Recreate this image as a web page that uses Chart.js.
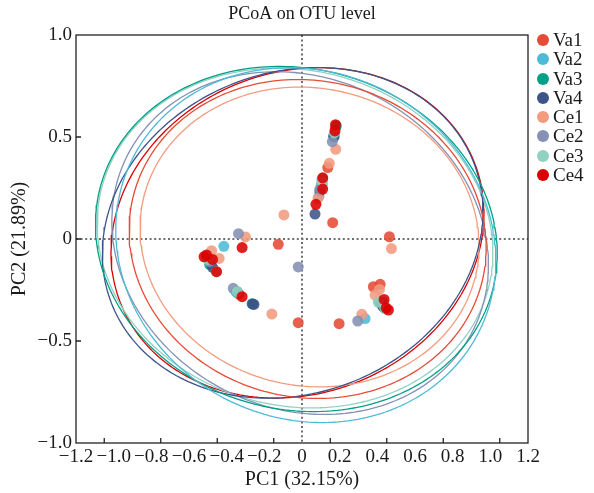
<!DOCTYPE html>
<html><head><meta charset="utf-8">
<script src="https://cdn.jsdelivr.net/npm/chart.js@4/dist/chart.umd.min.js"></script>
<style>
html,body{margin:0;padding:0;background:#fff}
#wrap{position:relative;width:594px;height:493px}
#legend{position:absolute;left:537px;top:30.35px;font-family:'Liberation Serif','DejaVu Serif',serif;font-size:19px;color:#1a1a1a}
#legend .it{display:flex;align-items:center;height:19.3px;white-space:nowrap}
#legend .dot{display:inline-block;width:12px;height:12px;border-radius:50%;margin-right:4px}
</style>
</head><body>
<div id="wrap">
<canvas id="c" width="594" height="493"></canvas>
<div id="legend"></div>
</div>
<script>
const groups = ['Va1','Va2','Va3','Va4','Ce1','Ce2','Ce3','Ce4'];
const colors = ['#E64B35','#4DBBD5','#00A087','#3C5488','#F39B7F','#8491B4','#91D1C2','#DC0000'];

// PC1 / PC2 coordinates per group
const va1PC1 = [0.178, 0.137, 0.105, 0.163, -0.126, -0.020, 0.197, 0.379, 0.415, 0.464, -0.500, -0.335];
const va1PC2 = [0.545, 0.350, 0.270, 0.080, -0.026, -0.410, -0.415, -0.234, -0.222, 0.011, -0.090, -0.270];
const va2PC1 = [0.172, 0.105, -0.415, -0.505, -0.350, 0.335, 0.430, 0.090];
const va2PC2 = [0.510, 0.265, -0.036, -0.085, -0.260, -0.390, -0.330, 0.210];
const va3PC1 = [0.182, 0.168, 0.108, -0.490, -0.344, -0.265, 0.411, 0.440];
const va3PC2 = [0.555, 0.505, 0.295, -0.125, -0.258, -0.317, -0.307, -0.340];
const va4PC1 = [0.069, 0.095, 0.170, -0.475, -0.262, -0.255, 0.424, 0.430];
const va4PC2 = [0.122, 0.235, 0.500, -0.139, -0.319, -0.321, -0.323, -0.330];
const ce1PC1 = [0.179, 0.145, 0.085, -0.096, -0.300, -0.480, -0.440, -0.160, 0.318, 0.411, 0.388, 0.475];
const ce1PC2 = [0.440, 0.371, 0.200, 0.118, 0.010, -0.057, -0.095, -0.368, -0.369, -0.247, -0.275, -0.047];
const ce2PC1 = [0.161, 0.095, -0.020, -0.337, -0.365, 0.296, -0.490, 0.430];
const ce2PC2 = [0.477, 0.245, -0.137, 0.026, -0.242, -0.402, -0.110, -0.310];
const ce3PC1 = [0.172, 0.105, -0.454, -0.344, 0.405, 0.440, 0.110, -0.500];
const ce3PC2 = [0.520, 0.290, -0.160, -0.258, -0.310, -0.340, 0.275, -0.100];
const ce4PC1 = [0.178, 0.175, 0.110, 0.110, 0.074, -0.318, -0.520, -0.507, -0.475, -0.454, -0.318, 0.436, 0.447, 0.459];
const ce4PC2 = [0.560, 0.530, 0.300, 0.245, 0.170, -0.042, -0.087, -0.078, -0.100, -0.160, -0.283, -0.296, -0.338, -0.348];

// confidence ellipse parameters per group (centre, semi-axes, rotation in degrees)
const ellCx    = [0.03, 0.02, -0.03, -0.05, 0.04, -0.01, -0.037, -0.024];
const ellCy    = [0.00, -0.03, 0.00, 0.03, 0.01, -0.02, 0.005, 0.03];
const ellA     = [0.951, 1.019, 1.073, 1.024, 0.903, 1.017, 1.057, 1.003];
const ellB     = [0.778, 0.858, 0.838, 0.793, 0.731, 0.819, 0.825, 0.794];
const ellAngle = [-8, -15, -10, 15, -8, -18, -10, 15];

// axis ticks
const xTickValues = [-1.2,-1.0,-0.8,-0.6,-0.4,-0.2,0,0.2,0.4,0.6,0.8,1.0,1.2];
const xTickLabels = ['\u22121.2','\u22121.0','\u22120.8','\u22120.6','\u22120.4','\u22120.2','0','0.2','0.4','0.6','0.8','1.0','1.2'];
const yTickValues = [-1.0,-0.5,0,0.5,1.0];
const yTickLabels = ['\u22121.0','\u22120.5','0','0.5','1.0'];
const xTickMarks = [-1.05,-0.75,-0.45,-0.15,0.15,0.45,0.75,1.05];
const yTickMarks = [-0.5,0,0.5];

const pc1 = [va1PC1, va2PC1, va3PC1, va4PC1, ce1PC1, ce2PC1, ce3PC1, ce4PC1];
const pc2 = [va1PC2, va2PC2, va3PC2, va4PC2, ce1PC2, ce2PC2, ce3PC2, ce4PC2];

const FONT = "'Liberation Serif', 'DejaVu Serif', serif";
const TXT = '#1a1a1a';

function withAlpha(hex, a){
  const n = parseInt(hex.slice(1),16);
  return `rgba(${(n>>16)&255},${(n>>8)&255},${n&255},${a})`;
}
function ellipsePoints(cx, cy, a, b, deg){
  const t = deg*Math.PI/180, pts = [];
  for (let k=0;k<=240;k++){
    const s = k/240*2*Math.PI;
    pts.push({x: cx + a*Math.cos(s)*Math.cos(t) - b*Math.sin(s)*Math.sin(t),
              y: cy + a*Math.cos(s)*Math.sin(t) + b*Math.sin(s)*Math.cos(t)});
  }
  return pts;
}

// HTML legend
const legendEl = document.getElementById('legend');
groups.forEach((g,i)=>{
  const it = document.createElement('div'); it.className = 'it';
  const d = document.createElement('span'); d.className = 'dot'; d.style.background = colors[i];
  const t = document.createElement('span'); t.textContent = g;
  it.appendChild(d); it.appendChild(t); legendEl.appendChild(it);
});

const datasets = [];
groups.forEach((g,i)=>{
  datasets.push({
    label: g,
    data: pc1[i].map((x,j)=>({x, y: pc2[i][j]})),
    backgroundColor: withAlpha(colors[i], 0.88),
    borderWidth: 0,
    pointRadius: 5.5,
    pointHoverRadius: 5.5,
    pointStyle: 'circle',
    order: 7 - i
  });
});
groups.forEach((g,i)=>{
  datasets.push({
    label: g + ' ellipse',
    data: ellipsePoints(ellCx[i], ellCy[i], ellA[i], ellB[i], ellAngle[i]),
    showLine: true,
    borderColor: colors[i],
    borderWidth: 1.3,
    pointRadius: 0,
    fill: false,
    tension: 0,
    order: 20 + i
  });
});

const framePlugin = {
  id: 'frame',
  afterDraw(chart){
    const {ctx, chartArea: a, scales} = chart;
    ctx.save();
    ctx.strokeStyle = '#222';
    ctx.lineWidth = 1.3;
    ctx.strokeRect(a.left, a.top, a.right - a.left, a.bottom - a.top);
    ctx.beginPath();
    xTickMarks.forEach(v=>{ const p = scales.x.getPixelForValue(v); ctx.moveTo(p, a.bottom); ctx.lineTo(p, a.bottom - 5); });
    yTickMarks.forEach(v=>{ const p = scales.y.getPixelForValue(v); ctx.moveTo(a.left, p); ctx.lineTo(a.left + 5, p); });
    ctx.stroke();
    ctx.restore();
  }
};

const zeroGrid = (ctx) => (ctx.tick && Math.abs(ctx.tick.value) < 1e-9) ? '#6e6e6e' : 'rgba(0,0,0,0)';

new Chart(document.getElementById('c'), {
  type: 'scatter',
  data: { datasets },
  options: {
    responsive: false,
    animation: false,
    layout: { padding: 0 },
    plugins: {
      tooltip: { enabled: false },
      legend: { display: false },
      title: {
        display: true, text: 'PCoA on OTU level', fullSize: false,
        color: TXT, font: { family: FONT, size: 18, weight: 'normal' },
        padding: { top: 3, bottom: 5 }
      }
    },
    scales: {
      x: {
        type: 'linear', position: 'bottom', min: -1.2, max: 1.2,
        afterFit: (s) => { s.height = 50; },
        afterBuildTicks: (s) => { s.ticks = xTickValues.map(v=>({value:v})); },
        ticks: {
          autoSkip: false, maxRotation: 0, padding: 3, color: TXT,
          font: { family: FONT, size: 19 },
          callback: (v) => { const k = xTickValues.findIndex(t=>Math.abs(t-v)<1e-9); return k>=0 ? xTickLabels[k] : ''; }
        },
        grid: { drawTicks: false, color: zeroGrid, lineWidth: 2 },
        border: { display: false, dash: [2, 2.6] },
        title: { display: true, text: 'PC1 (32.15%)', color: TXT, font: { family: FONT, size: 20 }, padding: { top: 0, bottom: 1 } }
      },
      y: {
        type: 'linear', position: 'left', min: -1, max: 1,
        afterFit: (s) => { s.width = 76; },
        afterBuildTicks: (s) => { s.ticks = yTickValues.map(v=>({value:v})); },
        ticks: {
          padding: 4, color: TXT, font: { family: FONT, size: 19 },
          callback: (v) => { const k = yTickValues.findIndex(t=>Math.abs(t-v)<1e-9); return k>=0 ? yTickLabels[k] : ''; }
        },
        grid: { drawTicks: false, color: zeroGrid, lineWidth: 2 },
        border: { display: false, dash: [2, 2.6] },
        title: { display: true, text: 'PC2 (21.89%)', color: TXT, font: { family: FONT, size: 20 }, padding: { top: 8, bottom: 0 } }
      },
      xTop: {
        type: 'linear', position: 'top', min: -1.2, max: 1.2,
        afterFit: (s) => { s.height = 5.4; },
        ticks: { display: false }, grid: { display: false, drawTicks: false }, border: { display: false }
      },
      yRight: {
        type: 'linear', position: 'right', min: -1, max: 1,
        afterFit: (s) => { s.width = 66; },
        ticks: { display: false }, grid: { display: false, drawTicks: false }, border: { display: false }
      }
    }
  },
  plugins: [framePlugin]
});
</script>
</body></html>
